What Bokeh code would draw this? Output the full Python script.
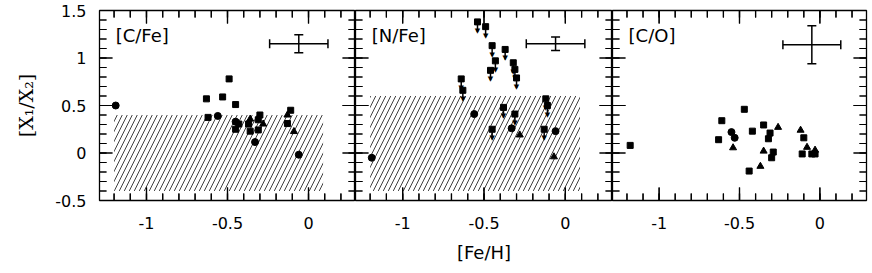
import numpy as np
from bokeh.plotting import figure
from bokeh.layouts import row, Spacer
from bokeh.models import (FixedTicker, CustomJSTickFormatter, Label,
                          Whisker, TeeHead, ColumnDataSource, Range1d)
from bokeh.embed import file_html
from bokeh.resources import INLINE
from bokeh.core.properties import value

# ---------------- data ----------------
panel_titles = ["[C/Fe]", "[N/Fe]", "[C/O]"]
x_title = "[Fe/H]"
y_title = "[X\u2081/X\u2082]"

x_major = [-1.0, -0.5, 0.0]
y_major = [-0.5, 0.0, 0.5, 1.0, 1.5]

# panel 1: [C/Fe]
feh_c = [-1.19, -0.49, -0.63, -0.53, -0.45, -0.62, -0.56, -0.45, -0.43, -0.45, -0.36, -0.37,
         -0.36, -0.30, -0.31, -0.28, -0.31, -0.33, -0.11, -0.13, -0.13, -0.09, -0.06]
cfe = [0.50, 0.78, 0.57, 0.59, 0.51, 0.375, 0.39, 0.33, 0.305, 0.25, 0.357, 0.305,
       0.23, 0.40, 0.35, 0.305, 0.243, 0.115, 0.45, 0.40, 0.31, 0.226, -0.018]
grp_c = ["B", "A", "A", "A", "A", "A", "B", "B", "A", "A", "C", "A",
         "A", "A", "A", "C", "A", "B", "A", "C", "A", "C", "B"]

# panel 2: [N/Fe]  (L = upper limit)
feh_n = [-1.19, -0.54, -0.49, -0.45, -0.37, -0.43, -0.46, -0.32, -0.31, -0.30, -0.64, -0.63,
         -0.56, -0.38, -0.31, -0.33, -0.28, -0.45, -0.12, -0.11, -0.13, -0.06, -0.07]
nfe = [-0.05, 1.38, 1.33, 1.13, 1.09, 0.97, 0.87, 0.95, 0.88, 0.79, 0.78, 0.66,
       0.41, 0.48, 0.41, 0.26, 0.19, 0.25, 0.57, 0.50, 0.25, 0.23, -0.04]
grp_n = ["B", "L", "L", "L", "L", "L", "L", "L", "L", "L", "L", "L",
         "B", "L", "L", "B", "C", "L", "L", "L", "L", "B", "C"]

# panel 3: [C/O]
feh_o = [-1.18, -0.47, -0.61, -0.55, -0.53, -0.63, -0.54, -0.42, -0.35, -0.26, -0.31, -0.32,
         -0.35, -0.29, -0.30, -0.37, -0.44, -0.12, -0.10, -0.08, -0.11, -0.03, -0.05, -0.03]
co = [0.08, 0.46, 0.34, 0.22, 0.16, 0.14, 0.055, 0.23, 0.295, 0.27, 0.21, 0.15,
      0.02, 0.01, -0.05, -0.14, -0.19, 0.24, 0.16, 0.06, -0.01, 0.03, -0.01, -0.01]
grp_o = ["A", "A", "A", "B", "B", "A", "C", "A", "A", "C", "A", "A",
         "C", "A", "A", "C", "A", "C", "A", "C", "A", "C", "A", "A"]

# hatched regions [left, right, bottom, top]
shade_c = [-1.2, 0.09, -0.4, 0.4]
shade_n = [-1.2, 0.09, -0.4, 0.6]

# typical error bars: x centre, y centre, x error, y error
err_x = [-0.06, -0.06, -0.05]
err_y = [1.15, 1.15, 1.14]
err_dx = [0.18, 0.18, 0.18]
err_dy = [0.095, 0.07, 0.20]

# ---------------- styling ----------------
X_RANGE = (-1.29, 0.29)
Y_RANGE = (-0.5, 1.5)
x_minor = [float(round(v, 1)) for v in np.arange(-1.2, 0.25, 0.1)]
y_minor = [float(round(v, 1)) for v in np.arange(-0.4, 1.45, 0.1)]

MARK = {"A": "square", "B": "circle", "C": "triangle", "L": "square"}
SIZE = {"A": 6, "B": 7, "C": 7, "L": 6}
FMT = "return String(Math.round(tick*10)/10);"
MAJ_LEN, MIN_LEN = 13, 7          # tick lengths in pixels
FRAME_H = 190


def label_axis(ax, ticks):
    ax.ticker = FixedTicker(ticks=ticks, minor_ticks=[])
    ax.formatter = CustomJSTickFormatter(code=FMT)
    ax.major_tick_in = 0
    ax.major_tick_out = 0
    ax.minor_tick_in = 0
    ax.minor_tick_out = 0
    ax.axis_line_color = None
    ax.major_label_text_font = "DejaVu Sans"
    ax.major_label_text_font_size = "16px"
    ax.major_label_text_color = "black"


def draw_ticks(p, frame_w):
    """Inward tick marks along all four frame edges (thin screen-sized bars)."""
    x0, x1 = X_RANGE
    y0, y1 = Y_RANGE
    ux = (x1 - x0) / frame_w        # data units per pixel (x)
    uy = (y1 - y0) / FRAME_H        # data units per pixel (y)
    tx, ty, tw, th, tl, ta = [], [], [], [], [], []
    for vals, ln in ((x_minor, MIN_LEN), (x_major, MAJ_LEN)):
        for v in vals:
            tx += [v, v]
            ty += [y0 + 0.5 * ln * uy, y1 - 0.5 * ln * uy]
            tw += [1.2, 1.2]
            th += [ln, ln]
            tl += [ln, ln]
            ta += [np.pi / 2, np.pi / 2]
    for vals, ln in ((y_minor, MIN_LEN), (y_major[1:-1], MAJ_LEN)):
        for v in vals:
            ty += [v, v]
            tx += [x0 + 0.5 * ln * ux, x1 - 0.5 * ln * ux]
            tw += [ln, ln]
            th += [1.2, 1.2]
            tl += [ln, ln]
            ta += [0.0, 0.0]
    src = ColumnDataSource(dict(x=tx, y=ty, w=tw, h=th, s=tl, a=ta))
    p.rect("x", "y", width="w", height="h", width_units="screen", height_units="screen",
           source=src, fill_color="black", line_color=None)
    p.scatter("x", "y", source=src, marker="dash", size="s", angle="a",
              line_color="black", line_width=1.2, fill_color=None)


def make_panel(idx, frame_w, left_b, right_b, xs, ys, grps, shade):
    p = figure(frame_width=frame_w, frame_height=FRAME_H,
               x_range=Range1d(*X_RANGE), y_range=Range1d(*Y_RANGE),
               output_backend="svg", toolbar_location=None,
               min_border_left=left_b, min_border_right=right_b,
               min_border_top=10, min_border_bottom=66)
    p.grid.visible = False
    p.outline_line_color = "black"
    p.outline_line_width = 1.3
    p.background_fill_color = "white"
    p.border_fill_color = "white"

    xb = p.xaxis[0]
    label_axis(xb, x_major)
    xb.major_label_standoff = 16
    if idx == 1:
        xb.axis_label = x_title
        xb.axis_label_text_font = "DejaVu Sans"
        xb.axis_label_text_font_size = "18px"
        xb.axis_label_text_font_style = "normal"
        xb.axis_label_text_color = "black"
        xb.axis_label_standoff = 10
    yl = p.yaxis[0]
    if idx == 0:
        label_axis(yl, y_major)
        yl.major_label_standoff = 13
        yl.axis_label = y_title
        yl.axis_label_text_font = "DejaVu Serif"
        yl.axis_label_text_font_size = "19px"
        yl.axis_label_text_font_style = "normal"
        yl.axis_label_text_color = "black"
        yl.axis_label_standoff = 15
    else:
        yl.visible = False

    if shade is not None:
        p.quad(left=[shade[0]], right=[shade[1]], bottom=[shade[2]], top=[shade[3]],
               fill_alpha=0, line_alpha=0, hatch_pattern="/", hatch_scale=10,
               hatch_color="black", hatch_weight=1, hatch_alpha=0.75)

    draw_ticks(p, frame_w)

    lx = [x for x, g in zip(xs, grps) if g == "L"]
    ly = [y for y, g in zip(ys, grps) if g == "L"]
    if lx:
        p.ray(x=lx, y=ly, length=10, length_units="screen", angle=-np.pi / 2,
              line_color="black", line_width=1.5)
        p.text(x=lx, y=ly, text=["\u25BC"] * len(lx), y_offset=9,
               text_baseline="middle", text_align="center",
               text_font=value("DejaVu Sans"), text_font_size="7px",
               text_color="black")

    src = ColumnDataSource(dict(x=xs, y=ys, m=[MARK[g] for g in grps],
                                s=[SIZE[g] for g in grps]))
    p.scatter("x", "y", source=src, marker="m", size="s",
              fill_color="black", line_color="black")

    hs = ColumnDataSource(dict(b=[err_y[idx]], lo=[err_x[idx] - err_dx[idx]],
                               up=[err_x[idx] + err_dx[idx]]))
    p.add_layout(Whisker(source=hs, base="b", lower="lo", upper="up", dimension="width",
                         line_width=1.5, line_color="black",
                         lower_head=TeeHead(size=9, line_width=1.5, line_color="black"),
                         upper_head=TeeHead(size=9, line_width=1.5, line_color="black")))
    vs = ColumnDataSource(dict(b=[err_x[idx]], lo=[err_y[idx] - err_dy[idx]],
                               up=[err_y[idx] + err_dy[idx]]))
    p.add_layout(Whisker(source=vs, base="b", lower="lo", upper="up", dimension="height",
                         line_width=1.5, line_color="black",
                         lower_head=TeeHead(size=9, line_width=1.5, line_color="black"),
                         upper_head=TeeHead(size=9, line_width=1.5, line_color="black")))

    p.add_layout(Label(x=-1.19, y=1.35, text=panel_titles[idx], text_baseline="top",
                       text_font="DejaVu Sans", text_font_size="18px", text_color="black"))
    return p


p1 = make_panel(0, 256, 93, 0, feh_c, cfe, grp_c, shade_c)
p2 = make_panel(1, 257, 0, 0, feh_n, nfe, grp_n, shade_n)
p3 = make_panel(2, 254, 0, 4, feh_o, co, grp_o, None)

layout = row(Spacer(width=6), p1, p2, p3)
open("out.html", "w").write(file_html(layout, INLINE))
